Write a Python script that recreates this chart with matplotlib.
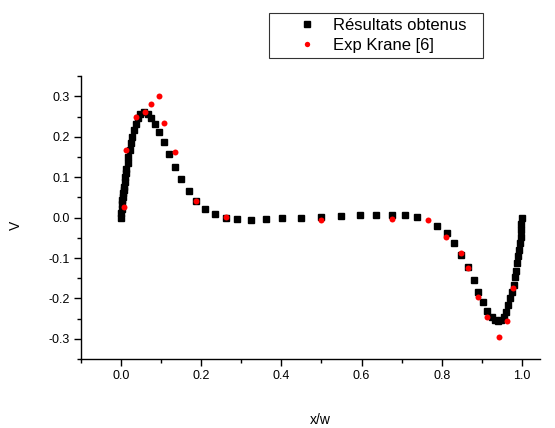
import matplotlib
matplotlib.use("Agg")
import matplotlib.pyplot as plt
from matplotlib.ticker import MultipleLocator, FormatStrFormatter
from matplotlib.legend_handler import HandlerLine2D

plt.rcParams['font.family'] = ['Liberation Sans', 'DejaVu Sans']

# numerical results (black squares)
x_num = [0.0, 0.001, 0.002, 0.003, 0.004, 0.005, 0.006, 0.007, 0.008, 0.0095,
         0.011, 0.0125, 0.014, 0.017, 0.019, 0.022, 0.026, 0.029, 0.032, 0.037,
         0.042, 0.048, 0.058, 0.068, 0.076, 0.086, 0.096, 0.108, 0.12, 0.134,
         0.151, 0.169, 0.188, 0.21, 0.234, 0.261, 0.29, 0.324, 0.361, 0.403,
         0.448, 0.5, 0.55, 0.596, 0.637, 0.675, 0.708, 0.739, 0.788, 0.812,
         0.831, 0.848, 0.865, 0.88, 0.891, 0.903, 0.914, 0.925, 0.934, 0.94,
         0.948, 0.954, 0.96, 0.966, 0.971, 0.975, 0.979, 0.983, 0.986, 0.988,
         0.991, 0.993, 0.995, 0.9965, 0.9975, 0.9988, 1.0]
y_num = [0.0, 0.011, 0.022, 0.033, 0.044, 0.052, 0.06, 0.068, 0.077, 0.088,
         0.10, 0.11, 0.12, 0.135, 0.151, 0.168, 0.184, 0.2, 0.217, 0.232,
         0.246, 0.256, 0.261, 0.257, 0.247, 0.232, 0.211, 0.186, 0.157, 0.125,
         0.095, 0.066, 0.042, 0.022, 0.0084, 0.0, -0.004, -0.005, -0.004, -0.002,
         0.0, 0.0025, 0.0035, 0.006, 0.0067, 0.0074, 0.0067, 0.0025, -0.02, -0.039,
         -0.063, -0.092, -0.123, -0.154, -0.183, -0.209, -0.23, -0.245, -0.253, -0.256,
         -0.253, -0.245, -0.233, -0.216, -0.2, -0.183, -0.167, -0.148, -0.131, -0.113,
         -0.096, -0.08, -0.063, -0.047, -0.031, -0.015, 0.0]

# experimental data, Krane (red dots)
x_exp = [0.008, 0.014, 0.037, 0.06, 0.076, 0.096, 0.108, 0.135, 0.188, 0.261,
         0.5, 0.675, 0.765, 0.811, 0.848, 0.865, 0.891, 0.913, 0.944, 0.962, 0.977]
y_exp = [0.027, 0.168, 0.249, 0.262, 0.281, 0.301, 0.234, 0.163, 0.041, 0.002,
         -0.0065, -0.004, -0.006, -0.047, -0.087, -0.125, -0.196, -0.245, -0.296, -0.256, -0.173]

fig = plt.figure(figsize=(5.55, 4.28), dpi=100)
ax = fig.add_axes([0.1454, 0.161, 0.8276, 0.661])

l1, = ax.plot(x_num, y_num, 's', color='black', markersize=4.3, label='Résultats obtenus', zorder=2)
l2, = ax.plot(x_exp, y_exp, 'o', color='red', markersize=4.3, markeredgewidth=0, label='Exp Krane [6]', zorder=3)

ax.set_xlim(-0.1, 1.045)
ax.set_ylim(-0.35, 0.35)
ax.xaxis.set_major_locator(MultipleLocator(0.2))
ax.xaxis.set_minor_locator(MultipleLocator(0.1))
ax.yaxis.set_major_locator(MultipleLocator(0.1))
ax.yaxis.set_minor_locator(MultipleLocator(0.05))
ax.xaxis.set_major_formatter(FormatStrFormatter('%.1f'))
ax.yaxis.set_major_formatter(FormatStrFormatter('%.1f'))

for s in ['top', 'right']:
    ax.spines[s].set_visible(False)
for s in ['left', 'bottom']:
    ax.spines[s].set_linewidth(1.0)
ax.tick_params(which='major', direction='out', length=5, width=1.0, labelsize=9, pad=3)
ax.tick_params(which='minor', direction='out', length=3, width=1.0)

ax.set_xlabel('x/w', fontsize=10)
ax.set_ylabel('V', fontsize=10, rotation=90)
ax.xaxis.set_label_coords(0.521, -0.19)
ax.yaxis.set_label_coords(-0.125, 0.473)

hmap = {l1: HandlerLine2D(xpad=0.92), l2: HandlerLine2D(xpad=0.92)}
leg = fig.legend(handles=[l1, l2], handler_map=hmap, loc='upper left',
                 bbox_to_anchor=(0.4847, 0.86, 0.3856, 0.1096), mode='expand',
                 fontsize=12, frameon=True, fancybox=False, edgecolor='black',
                 borderpad=0.3, handletextpad=0.5, handlelength=3.03,
                 labelspacing=0.3, borderaxespad=0, markerscale=0.9)
leg.get_frame().set_linewidth(0.8)

fig.savefig('out.png', dpi=100)
